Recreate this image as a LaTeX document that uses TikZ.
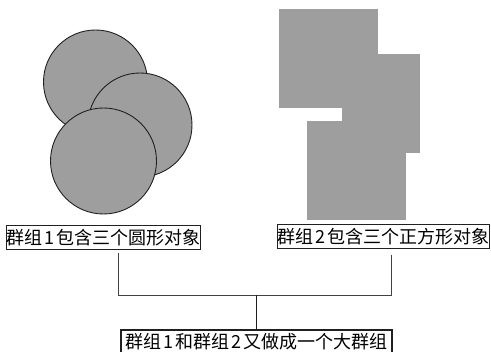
\documentclass[tikz,border=0pt]{standalone}
\usepackage{fontspec}
\newfontfamily\cjk{Noto Sans CJK SC}
\usetikzlibrary{positioning}
\definecolor{shapegray}{HTML}{9E9E9E}
\definecolor{inkdark}{HTML}{231F20}
\newcommand{\dg}[1]{\hspace{2pt}#1\hspace{2pt}}

\begin{document}
\begin{tikzpicture}[x=1pt,y=-1pt,thin]
\tikzstyle{disc}=[fill=shapegray,draw=inkdark,line width=0.9pt]
\tikzstyle{block}=[fill=shapegray]
\tikzstyle{label}=[draw=inkdark,line width=1.1pt,fill=white,inner sep=0pt,minimum height=24pt,font=\cjk\fontsize{18}{18}\selectfont]
\tikzstyle{link}=[draw=inkdark!85,line width=0.9pt]

\useasboundingbox (0,0) rectangle (491,352);
\clip (0,0) rectangle (491,352);

% group 1: circles
\draw[disc] (95.5,82) circle (52);
\draw[disc] (140,125) circle (52);
\draw[disc] (103.5,161) circle (53);

% group 2: squares
\fill[block] (279,9) rectangle (378,108);
\fill[block] (342,54) rectangle (420,153);
\fill[block] (307,121) rectangle (406,220);

\node[label,minimum width=193pt] (G1) at (103.5,237.5) {群组\dg{1}包含三个圆形对象};
\node[label,minimum width=211pt] (G2) at (383.5,236.5) {群组\dg{2}包含三个正方形对象};
\node[label,minimum width=271pt] (G3) at (256.5,342) {群组\dg{1}和群组\dg{2}又做成一个大群组};

\coordinate (J1) at (118,295);
\coordinate (J2) at (391,295);
\coordinate (J3) at (256.5,295);

\draw[link] (G1.south -| J1) ++(0,3) -- (J1) -- (J2) -- ++(0,-40);
\draw[line width=1.8pt,inkdark] (J3) -- (G3.north);
\end{tikzpicture}
\end{document}
